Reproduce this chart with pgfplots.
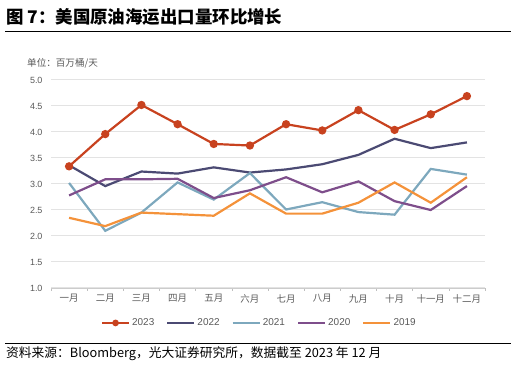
\documentclass[border=0pt]{standalone}
\usepackage{pgfplots}
\pgfplotsset{compat=1.18}
\usepackage{fontspec}
\setmainfont{Liberation Sans}
\newfontfamily\cjk{Noto Sans CJK SC}
\definecolor{c23}{HTML}{C8421F}
\definecolor{c22}{HTML}{4B4A73}
\definecolor{c21}{HTML}{7DA8BD}
\definecolor{c20}{HTML}{7E4E8B}
\definecolor{c19}{HTML}{F4923A}
\definecolor{tickgray}{HTML}{595959}
\begin{document}
\begin{tikzpicture}
\path[use as bounding box] (0bp,0bp) rectangle (516bp,366bp);
\node[anchor=west,inner sep=0,font=\cjk\bfseries\fontsize{17.5}{20}\selectfont] at (6bp,349bp) {图 7：美国原油海运出口量环比增长};
\draw[line width=0.8bp] (5bp,335bp) -- (511bp,335bp);
\node[anchor=west,inner sep=0,text=tickgray,font=\cjk\fontsize{9.6}{11}\selectfont] at (27bp,303bp) {单位：百万桶/天};
\begin{axis}[at={(51bp,78bp)}, anchor=south west, scale only axis,
  width=434bp, height=208bp,
  xmin=-0.5, xmax=11.5, ymin=1, ymax=5,
  xtick={0,...,11},
  xticklabels={一月,二月,三月,四月,五月,六月,七月,八月,九月,十月,十一月,十二月},
  minor xtick={-0.5,0.5,...,11.5},
  ytick={1,1.5,...,5},
  yticklabel style={/pgf/number format/fixed,/pgf/number format/fixed zerofill,/pgf/number format/precision=1,/pgf/number format/assume math mode=true,xshift=-5bp},
  tick label style={text=tickgray,font=\fontsize{9}{10}\selectfont},
  xticklabel style={font=\cjk\fontsize{9.5}{11}\selectfont,yshift=-3bp},
  major tick length=0pt,
  minor tick length=3bp,
  tick align=outside,
  minor tick style={gray!50,line width=0.6bp},
  axis x line*=bottom,
  axis y line*=left,
  y axis line style={draw=none},
  x axis line style={gray!40,line width=0.8bp,-},
  ymajorgrids,
  major grid style={gray!22,line width=1bp},
  legend columns=5,
  legend style={at={(0.48,-0.168)},anchor=center,draw=none,fill=none,
    font=\fontsize{10}{11}\selectfont,text=tickgray,
    /tikz/every even column/.append style={column sep=10bp}},
  legend image code/.code={\draw[#1,mark repeat=2,mark phase=2,mark size=2.2bp] plot coordinates {(0bp,0bp) (13.5bp,0bp) (27bp,0bp)};},
  every axis plot/.append style={line width=2.2bp},
]
\addplot[c23,mark=*,mark size=3bp,mark options={solid}] coordinates {
(0,3.34)(1,3.96)(2,4.52)(3,4.15)(4,3.77)(5,3.74)(6,4.15)(7,4.03)(8,4.42)(9,4.04)(10,4.34)(11,4.69)};
\addplot[c22] coordinates {
(0,3.36)(1,2.96)(2,3.24)(3,3.20)(4,3.32)(5,3.22)(6,3.28)(7,3.38)(8,3.56)(9,3.87)(10,3.69)(11,3.80)};
\addplot[c21] coordinates {
(0,3.02)(1,2.10)(2,2.45)(3,3.03)(4,2.70)(5,3.21)(6,2.51)(7,2.65)(8,2.46)(9,2.41)(10,3.29)(11,3.18)};
\addplot[c20] coordinates {
(0,2.78)(1,3.09)(2,3.09)(3,3.10)(4,2.73)(5,2.88)(6,3.13)(7,2.84)(8,3.05)(9,2.67)(10,2.50)(11,2.96)};
\addplot[c19] coordinates {
(0,2.35)(1,2.19)(2,2.45)(3,2.42)(4,2.39)(5,2.82)(6,2.43)(7,2.43)(8,2.64)(9,3.03)(10,2.64)(11,3.13)};
\legend{2023,2022,2021,2020,2019}
\end{axis}
\draw[line width=0.8bp] (5bp,23bp) -- (511bp,23bp);
\node[anchor=west,inner sep=0,font=\cjk\fontsize{12.8}{14}\selectfont] at (6bp,12bp) {资料来源：Bloomberg，光大证券研究所，数据截至 2023 年 12 月};
\end{tikzpicture}
\end{document}
